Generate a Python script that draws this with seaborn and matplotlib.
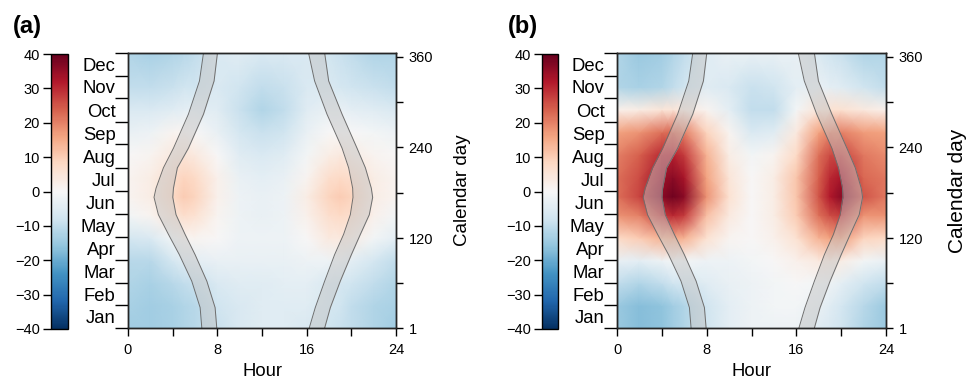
import matplotlib
matplotlib.use("Agg")
import matplotlib.pyplot as plt
import numpy as np
import seaborn as sns

# grid nodes (hour columns, calendar-day rows)
HOURS = [0, 2, 4, 5, 6, 8, 10, 12, 14, 16, 18, 19, 20, 22, 24]
DAYS = [1, 30, 60, 90, 120, 150, 175, 200, 230, 260, 290, 320, 365]

VALUES_A = [
    [-14, -14, -13, -12, -11, -9, -6, -5, -5, -6, -8, -9, -10, -12, -14],
    [-13, -14, -13, -12, -11, -8, -6, -5, -5, -5, -7, -8, -10, -12, -13],
    [-12, -13, -11, -10, -9, -6, -5, -5, -4, -4, -6, -7, -8, -10, -12],
    [-11, -11, -7, -5, -4, -3, -3, -3, -3, -2, -2, -2, -4, -7, -10],
    [-7, -6, -1, 1, 1, 0, -2, -2, -2, 0, 4, 4, 3, -1, -4],
    [-1, 1, 5, 7, 6, 1, -2, -3, -2, 2, 7, 8, 7, 2, -1],
    [1, 3, 8, 10, 9, 2, -2, -3, -2, 3, 9, 10, 9, 3, 1],
    [1, 3, 7, 9, 8, 2, -3, -4, -3, 1, 7, 8, 7, 3, 1],
    [0, 1, 4, 5, 4, 0, -5, -6, -5, -1, 3, 4, 3, 1, 0],
    [-3, -2, 1, 1, 0, -3, -7, -9, -8, -3, 0, 0, 0, -1, -2],
    [-6, -6, -5, -4, -4, -5, -9, -12, -10, -5, -3, -3, -4, -5, -6],
    [-10, -10, -9, -8, -8, -6, -8, -10, -9, -6, -6, -7, -8, -9, -10],
    [-12, -13, -12, -11, -10, -6, -5, -6, -6, -6, -8, -9, -10, -12, -12],
]

VALUES_B = [
    [-15, -17, -16, -14, -12, -8, -4, -2, -2, -2, -5, -6, -8, -12, -15],
    [-15, -17, -16, -14, -12, -8, -4, -2, -1, -1, -3, -5, -7, -11, -15],
    [-10, -12, -10, -8, -7, -5, -3, -2, -1, 0, -1, -2, -4, -8, -10],
    [-3, -4, -2, -1, -1, -2, -2, -1, 0, 2, 4, 4, 3, -1, -3],
    [8, 10, 14, 15, 14, 6, 1, 0, 2, 6, 14, 16, 17, 9, 8],
    [18, 20, 28, 30, 28, 12, 4, 0, 3, 10, 22, 26, 28, 18, 18],
    [22, 27, 36, 39, 36, 18, 6, 0, 3, 11, 25, 32, 36, 25, 21],
    [22, 26, 34, 36, 33, 16, 5, 0, 3, 11, 24, 30, 33, 23, 21],
    [20, 24, 30, 31, 28, 14, 3, -1, 1, 8, 22, 26, 27, 21, 19],
    [16, 18, 22, 23, 20, 9, 1, -6, -5, 4, 16, 20, 20, 17, 16],
    [2, 3, 5, 5, 4, 1, -4, -10, -10, -1, 5, 6, 6, 4, 2],
    [-12, -13, -12, -10, -8, -5, -6, -9, -8, -4, -3, -4, -5, -8, -10],
    [-12, -15, -14, -12, -10, -5, -3, -3, -3, -3, -6, -8, -9, -12, -12],
]

# twilight bands (hours) at calendar days
BAND_DAYS = [1, 28, 63, 98, 125, 151, 174, 186, 213, 239, 284, 328, 365]
DAWN_START = [6.61, 6.46, 5.71, 4.60, 3.62, 2.72, 2.33, 2.51, 3.17, 4.07, 5.41, 6.40, 6.76]
DAWN_END = [7.95, 7.80, 7.06, 6.01, 5.11, 4.30, 4.01, 4.07, 4.42, 5.41, 6.76, 7.71, 8.01]
DUSK_START = [16.23, 16.77, 17.61, 18.50, 19.31, 19.91, 20.15, 20.12, 19.76, 19.17, 17.82, 16.71, 16.17]
DUSK_END = [17.61, 18.12, 19.01, 20.00, 20.81, 21.61, 21.91, 21.79, 21.26, 20.51, 19.17, 17.97, 17.61]

MONTHS = ["Jan", "Feb", "Mar", "Apr", "May", "Jun",
          "Jul", "Aug", "Sep", "Oct", "Nov", "Dec"]
MONTH_EDGES = [1, 32, 60, 91, 121, 152, 182, 213, 244, 274, 305, 335, 365]

sns.set_style("ticks")
plt.rcParams["font.family"] = ["Liberation Sans", "DejaVu Sans"]
plt.rcParams["axes.linewidth"] = 1.0
plt.rcParams["text.color"] = "black"
plt.rcParams["axes.labelcolor"] = "black"
plt.rcParams["xtick.color"] = "black"
plt.rcParams["ytick.color"] = "black"

cmap = sns.color_palette("RdBu_r", as_cmap=True)

W, H = 976, 384
fig = plt.figure(figsize=(W / 100, H / 100), dpi=100)


def px(x0, y0, x1, y1):
    # pixel box -> figure fraction
    return [x0 / W, 1 - y1 / H, (x1 - x0) / W, (y1 - y0) / H]


def draw_panel(values, cbar_x, heat_x, tag, tag_x, cal_size, cal_x):
    ax = fig.add_axes(px(heat_x[0], 53, heat_x[1], 328))
    cax = fig.add_axes(px(cbar_x[0], 54, cbar_x[1], 329))

    mesh = ax.pcolormesh(HOURS, DAYS, np.array(values, dtype=float),
                         shading="gouraud", cmap=cmap, vmin=-40, vmax=40)

    # twilight bands
    for lo, hi in [(DAWN_START, DAWN_END), (DUSK_START, DUSK_END)]:
        ax.fill_betweenx(BAND_DAYS, lo, hi, color="#c4c4c4", alpha=0.5, lw=0)
        ax.plot(lo, BAND_DAYS, color="#6e6e6e", lw=0.7)
        ax.plot(hi, BAND_DAYS, color="#6e6e6e", lw=0.7)

    ax.set_xlim(0, 24)
    ax.set_ylim(1, 365)

    ax.set_xticks(range(0, 25, 4))
    ax.set_xticklabels(["0", "", "8", "", "16", "", "24"], fontsize=10.5)
    ax.tick_params(axis="x", length=6, width=1, pad=5)
    ax.set_xlabel("Hour", fontsize=13.3, labelpad=4)

    # month labels on the left, ticks at month edges
    ax.set_yticks(MONTH_EDGES)
    ax.set_yticklabels([])
    ax.tick_params(axis="y", which="major", length=9.5, width=1)
    mids = [(a + b) / 2 for a, b in zip(MONTH_EDGES[:-1], MONTH_EDGES[1:])]
    ax.set_yticks(mids, minor=True)
    ax.set_yticklabels(MONTHS, minor=True, fontsize=13.3)
    ax.tick_params(axis="y", which="minor", length=0, pad=9)

    for s in ax.spines.values():
        s.set_visible(True)
        s.set_color("black")

    # calendar-day axis on the right
    twin = ax.twinx()
    twin.set_ylim(1, 365)
    twin.set_yticks([1, 60, 120, 180, 240, 300, 360])
    twin.set_yticklabels(["1", "", "120", "", "240", "", "360"], fontsize=10.5)
    twin.tick_params(axis="y", length=5, width=1, pad=4)
    twin.set_ylabel("Calendar day", fontsize=cal_size)
    twin.yaxis.set_label_coords(cal_x, 0.5)

    cb = fig.colorbar(mesh, cax=cax, ticks=range(-40, 41, 10))
    cb.outline.set_linewidth(1)
    cb.outline.set_edgecolor("black")
    cax.yaxis.set_ticks_position("left")
    cax.tick_params(length=6, width=1, labelsize=10.5, pad=2)

    fig.text(tag_x / W, 1 - 26 / H, tag, fontsize=17, fontweight="bold",
             va="center", ha="left")


draw_panel(VALUES_A, (51, 68), (128, 396), "(a)", 13, 13.5, 1.215)
draw_panel(VALUES_B, (542, 558), (617, 886), "(b)", 508, 15, 1.23)

fig.savefig("out.png", dpi=100)
